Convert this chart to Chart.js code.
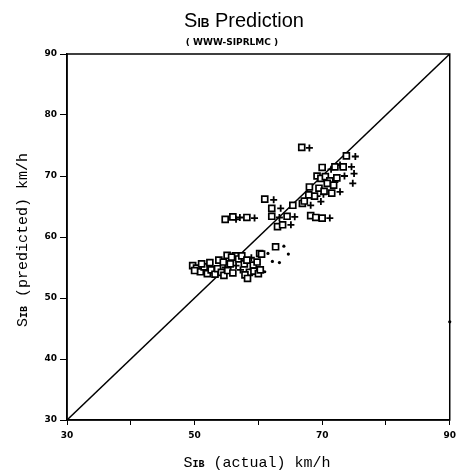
<!DOCTYPE html>
<html>
<head>
<meta charset="utf-8">
<script src="https://cdn.jsdelivr.net/npm/chart.js@4/dist/chart.umd.min.js"></script>
<style>
  html, body { margin: 0; padding: 0; background: #fff; }
  #wrap { width: 461px; height: 473px; }
</style>
</head>
<body>
<div id="wrap"><canvas id="myChart" width="461" height="473"></canvas></div>
<script>
// squares (first model)
const squareX = [66.8, 70.0, 73.8, 72.0, 73.3, 69.2, 69.8, 70.5, 71.2, 70.8, 68.0, 71.5, 68.8, 61.0, 66.9,
  65.4, 62.1, 62.1, 64.5, 54.8, 56.0, 58.2, 68.2, 69.0, 70.0, 63.0, 63.8, 62.7, 60.2, 67.9,
  69.5, 72.3, 71.8, 70.3, 67.2,
  49.7, 50.3, 50.9, 51.5, 52.0, 52.6, 53.2, 53.6, 54.2, 54.6, 55.2, 55.6, 56.0, 56.4, 56.9,
  57.4, 57.8, 58.2, 58.6, 59.2, 59.8, 60.5, 57.9, 58.3, 59.3, 60.0, 60.3, 53.8, 54.5, 55.1,
  55.8, 52.4, 51.1, 50.0];
const squareY = [74.7, 71.4, 73.3, 71.5, 71.5, 70.0, 69.6, 69.9, 69.2, 68.8, 68.2, 67.2, 66.7, 66.2, 65.5,
  65.2, 64.7, 63.4, 63.4, 62.9, 63.3, 63.2, 63.5, 63.2, 63.1, 61.7, 62.0, 58.4, 57.3, 66.9,
  68.0, 69.7, 68.5, 67.5, 65.9,
  55.3, 54.9, 54.3, 55.1, 54.0, 54.6, 53.9, 54.8, 54.2, 53.7, 54.5, 55.6, 54.1, 56.9, 56.4,
  56.9, 55.6, 56.2, 54.2, 55.4, 55.9, 57.2, 53.8, 53.2, 54.4, 54.0, 54.6, 56.2, 55.9, 57.0,
  56.7, 55.8, 55.6, 54.5];

// crosses (second model)
const crossX = [68.0, 71.4, 75.2, 72.8, 74.6, 75.0, 74.8, 72.8, 69.2, 70.2, 62.4, 69.8, 68.2, 63.5, 63.3,
  65.7, 56.5, 57.1, 59.4, 71.2, 65.1, 73.5, 72.0, 53.0, 54.8, 56.5, 57.2, 58.9];
const crossY = [74.6, 71.1, 73.2, 71.8, 71.5, 70.4, 68.8, 67.4, 66.7, 67.0, 66.1, 65.8, 65.2, 64.7, 63.2,
  63.3, 62.9, 63.2, 63.1, 63.1, 62.0, 70.0, 69.0, 54.4, 55.0, 55.3, 54.6, 56.6];

// dots
const dotX = [64.0, 64.7, 61.5, 62.2, 63.3, 61.0, 90.0];
const dotY = [58.5, 57.2, 57.3, 56.0, 55.8, 54.3, 46.1];

// line of equality
const lineX = [30, 90];
const lineY = [30, 90];

const yTicks = [30, 40, 50, 60, 70, 80, 90];
const xTickLabels = [30, 50, 70, 90];

const pts = (xs, ys) => xs.map((x, i) => ({ x: x, y: ys[i] }));

// title, subtitle, axis titles with the small caps "IB"
function mixedText(ctx, parts, x, y, align) {
  let w = 0;
  parts.forEach(p => { ctx.font = p.font; w += ctx.measureText(p.t).width; });
  let cx = align === 'center' ? x - w / 2 : x;
  ctx.textAlign = 'left';
  ctx.textBaseline = 'alphabetic';
  parts.forEach(p => {
    ctx.font = p.font;
    ctx.fillText(p.t, cx, y);
    cx += ctx.measureText(p.t).width;
  });
}

const textPlugin = {
  id: 'texts',
  afterDraw(chart) {
    const ctx = chart.ctx;
    const a = chart.chartArea;
    ctx.save();
    ctx.fillStyle = '#000';
    // frame
    ctx.strokeStyle = '#000';
    ctx.lineWidth = 1.5;
    ctx.strokeRect(a.left, a.top, a.right - a.left, a.bottom - a.top);

    mixedText(ctx, [
      { t: 'S', font: '20px "Liberation Sans"' },
      { t: 'IB', font: 'bold 12px "Liberation Sans"' },
      { t: ' Prediction', font: '20px "Liberation Sans"' }
    ], 244, 27, 'center');
    ctx.font = 'bold 9px "DejaVu Sans"';
    ctx.textAlign = 'center';
    ctx.fillText('( WWW-SIPRLMC )', 232, 45);

    const mono = '15px "Liberation Mono"';
    const monoSmall = 'bold 10px "Liberation Mono"';
    mixedText(ctx, [
      { t: 'S', font: mono },
      { t: 'IB', font: monoSmall },
      { t: ' (actual) km/h', font: mono }
    ], 257, 467, 'center');

    ctx.translate(27, 240);
    ctx.rotate(-Math.PI / 2);
    mixedText(ctx, [
      { t: 'S', font: mono },
      { t: 'IB', font: monoSmall },
      { t: ' (predicted) km/h', font: mono }
    ], 0, 0, 'center');
    ctx.restore();
  }
};

new Chart(document.getElementById('myChart'), {
  type: 'scatter',
  data: {
    datasets: [
      {
        label: 'squares',
        data: pts(squareX, squareY),
        pointStyle: 'rect',
        radius: 4.2,
        backgroundColor: '#fff',
        borderColor: '#000',
        borderWidth: 1.7
      },
      {
        label: 'crosses',
        data: pts(crossX, crossY),
        pointStyle: 'cross',
        radius: 3.5,
        borderColor: '#000',
        borderWidth: 1.8
      },
      {
        label: 'dots',
        data: pts(dotX, dotY),
        pointStyle: 'circle',
        radius: 1.6,
        backgroundColor: '#000',
        borderColor: '#000',
        borderWidth: 0,
        clip: false
      },
      {
        type: 'line',
        label: 'equal',
        data: pts(lineX, lineY),
        borderColor: '#000',
        borderWidth: 1.5,
        pointRadius: 0,
        fill: false
      }
    ]
  },
  options: {
    responsive: false,
    animation: false,
    devicePixelRatio: 1,
    layout: { padding: { top: 54, right: 4, left: 0, bottom: 0 } },
    plugins: {
      legend: { display: false },
      tooltip: { enabled: false },
      title: { display: false }
    },
    scales: {
      x: {
        type: 'linear',
        min: 30,
        max: 90,
        afterFit: s => { s.height = 53; },
        afterBuildTicks: s => { s.ticks = yTicks.map(v => ({ value: v })); },
        ticks: {
          color: '#000',
          font: { family: 'DejaVu Sans', size: 9, weight: 'bold' },
          padding: 5,
          maxRotation: 0,
          autoSkip: false,
          callback: v => xTickLabels.includes(v) ? String(v) : ''
        },
        grid: { drawOnChartArea: false, drawTicks: true, tickLength: 5, color: '#000' },
        border: { display: true, color: '#000', width: 1.5 }
      },
      y: {
        type: 'linear',
        min: 30,
        max: 90,
        afterFit: s => { s.width = 67; },
        afterBuildTicks: s => { s.ticks = yTicks.map(v => ({ value: v })); },
        ticks: {
          color: '#000',
          font: { family: 'DejaVu Sans', size: 9, weight: 'bold' },
          padding: 3,
          autoSkip: false
        },
        grid: { drawOnChartArea: false, drawTicks: true, tickLength: 7, color: '#000' },
        border: { display: true, color: '#000', width: 1.5 }
      }
    }
  },
  plugins: [textPlugin]
});
</script>
</body>
</html>
